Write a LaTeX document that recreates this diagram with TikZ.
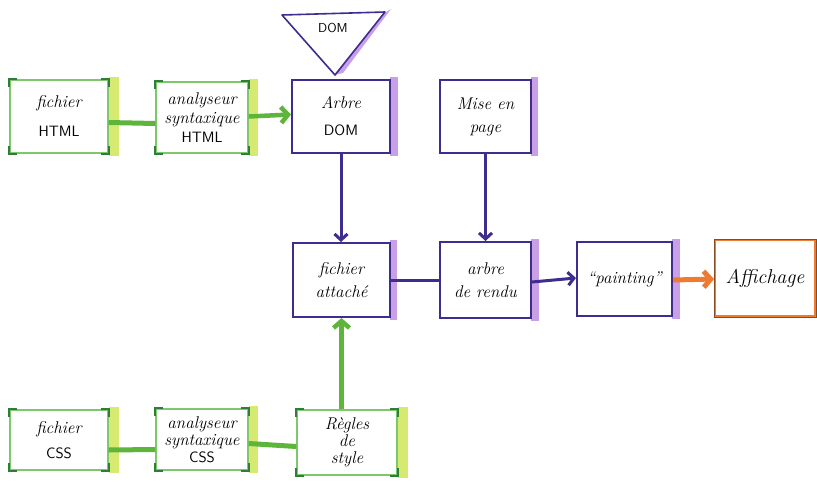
\documentclass[tikz,border=0pt]{standalone}
\usetikzlibrary{arrows.meta}
\definecolor{lgreen}{HTML}{7CC86A}
\definecolor{dgreen}{HTML}{2E7D3A}
\definecolor{mgreen}{HTML}{5DB53C}
\definecolor{ygshade}{HTML}{D6EA72}
\definecolor{dpurple}{HTML}{3E2C8E}
\definecolor{vshade}{HTML}{C9A0E6}
\definecolor{orangec}{HTML}{F07A30}
\definecolor{brownc}{HTML}{8A4A1E}
\newcommand\gcorners[1]{%
  \foreach \a/\dx/\dy in {north west/1/-1,north east/-1/-1,south west/1/1,south east/-1/1}{%
    \draw[dgreen,line width=1.8pt] ([xshift=\dx*8pt]#1.\a) -- (#1.\a) -- ([yshift=\dy*8pt]#1.\a);}}
\newcommand\gshade[2]{\fill[ygshade] ([yshift=2pt]#1.north east) rectangle ([xshift=#2pt,yshift=-2pt]#1.south east);}
\newcommand\pshade[2]{\fill[vshade] ([xshift=-1pt,yshift=2pt]#1.north east) rectangle ([xshift=#2pt,yshift=-2pt]#1.south east);}
\newcommand\caps[1]{{\sffamily\upshape\fontsize{15}{17}\selectfont #1}}
\begin{document}
\begin{tikzpicture}[x=1pt,y=-1pt,
  gbox/.style={draw=lgreen, line width=1.3pt, fill=white, align=center, inner sep=2pt, font=\fontsize{17}{19}\selectfont\itshape},
  pbox/.style={draw=dpurple, line width=2pt, fill=white, align=center, inner sep=2pt, font=\fontsize{17}{19}\selectfont\itshape},
  gline/.style={mgreen, line width=5pt},
  garrow/.style={mgreen, line width=4.5pt, -{Straight Barb[length=7pt,width=16pt]}},
  pline/.style={dpurple, line width=3pt},
  parrow/.style={dpurple, line width=3pt, -{Straight Barb[length=6pt,width=13pt]}},
  oarrow/.style={orangec, line width=5pt, -{Straight Barb[length=7pt,width=16pt]}},
]
\useasboundingbox (0,0) rectangle (817,485);
\fill[white] (0,0) rectangle (817,485);

% shades (drawn first, boxes on top)
\path (59,116.5) node[gbox, minimum width=98pt, minimum height=73pt] (html0) {};
\gshade{html0}{10}
\path (202,117.5) node[gbox, minimum width=92pt, minimum height=71pt] (ahtml0) {};
\gshade{ahtml0}{9}

% HTML row
\node[gbox, minimum width=98pt, minimum height=73pt] (html) at (59,116.5)
  {fichier\\[10pt]\caps{HTML}};
\gcorners{html}
\node[gbox, minimum width=92pt, minimum height=71pt] (ahtml) at (202,117.5)
  {analyseur\\syntaxique\\\caps{HTML}};
\gcorners{ahtml}

% DOM tree
\node[pbox, minimum width=98pt, minimum height=73pt] (arbre0) at (341,116.5) {};
\pshade{arbre0}{7}
\node[pbox, minimum width=98pt, minimum height=73pt] (arbre) at (341,116.5)
  {Arbre\\[8pt]\caps{DOM}};

% DOM triangle
\coordinate (tl) at (282,15);
\coordinate (tr) at (385,12);
\coordinate (tb) at (335,75);
\fill[vshade] ([xshift=1pt]tr) -- ([xshift=6pt,yshift=3pt]tr) -- ([xshift=8pt,yshift=2pt]tb) -- ([xshift=-1pt]tb) -- cycle;
\draw[dpurple, line width=1.6pt, line join=round] (tl) -- (tr) -- (tb) -- cycle;
\node[font=\fontsize{13}{15}\selectfont\sffamily] (dom) at (333,28) {DOM};

% Mise en page
\node[pbox, minimum width=91pt, minimum height=73pt] (mise0) at (485.5,116.5) {};
\pshade{mise0}{6}
\node[pbox, minimum width=91pt, minimum height=73pt] (mise) at (485.5,116.5)
  {Mise en\\[4pt]page};

% middle row
\node[pbox, minimum width=97pt, minimum height=74pt] (att0) at (341.5,280) {};
\pshade{att0}{6}
\node[pbox, minimum width=97pt, minimum height=74pt] (att) at (341.5,280)
  {fichier\\[4pt]attaché};
\node[pbox, minimum width=91pt, minimum height=76pt] (rendu0) at (485.5,280) {};
\pshade{rendu0}{7}
\node[pbox, minimum width=91pt, minimum height=76pt] (rendu) at (485.5,280)
  {arbre\\[4pt]de rendu};
\node[pbox, minimum width=95pt, minimum height=74pt] (paint0) at (624.5,279) {};
\pshade{paint0}{7}
\node[pbox, minimum width=95pt, minimum height=74pt] (paint) at (624.5,279)
  {``painting''};
\node[draw=orangec, line width=2pt, fill=white, minimum width=100pt, minimum height=76pt,
  font=\fontsize{20}{22}\selectfont\itshape] (aff) at (765,278) {Affichage};
\draw[brownc, line width=0.8pt] (aff.north west) rectangle (aff.south east);

% CSS row
\node[gbox, minimum width=98pt, minimum height=60pt] (css0) at (59,440) {};
\gshade{css0}{10}
\node[gbox, minimum width=92pt, minimum height=61pt] (acss0) at (202,439.5) {};
\gshade{acss0}{9}
\node[gbox, minimum width=100pt, minimum height=65pt] (regles0) at (347,442.5) {};
\gshade{regles0}{10}
\node[gbox, minimum width=98pt, minimum height=60pt] (css) at (59,440)
  {fichier\\[6pt]\caps{CSS}};
\gcorners{css}
\node[gbox, minimum width=92pt, minimum height=61pt, inner sep=0pt] (acss) at (202,439.5)
  {analyseur\\[-2pt]syntaxique\\[-2pt]\caps{CSS}};
\gcorners{acss}
\node[gbox, minimum width=100pt, minimum height=65pt, inner sep=0pt] (regles) at (347,442.5)
  {Règles\\[-2pt]de\\[-2pt]style};
\gcorners{regles}

% connectors
\draw[gline] ([yshift=-6pt]html.east) -- ([yshift=-6pt]ahtml.west);
\draw[garrow] ([yshift=1pt]ahtml.east) -- ([yshift=2pt]arbre.west);
\draw[parrow] (arbre.south) -- (arbre.south |- att.north);
\draw[parrow] (mise.south) -- (mise.south |- rendu.north);
\draw[pline] (att.east) -- (rendu.west);
\draw[parrow] ([yshift=-2pt]rendu.east) -- ([yshift=1pt]paint.west);
\draw[oarrow] ([yshift=-1pt]paint.east) -- ([yshift=-1pt]aff.west);
\draw[garrow] (att.south |- regles.north) -- (att.south);
\draw[gline] ([yshift=-10pt]css.east) -- ([yshift=-10pt]acss.west);
\draw[gline] ([yshift=-4pt]acss.east) -- ([yshift=-4pt]regles.west);
\end{tikzpicture}
\end{document}
